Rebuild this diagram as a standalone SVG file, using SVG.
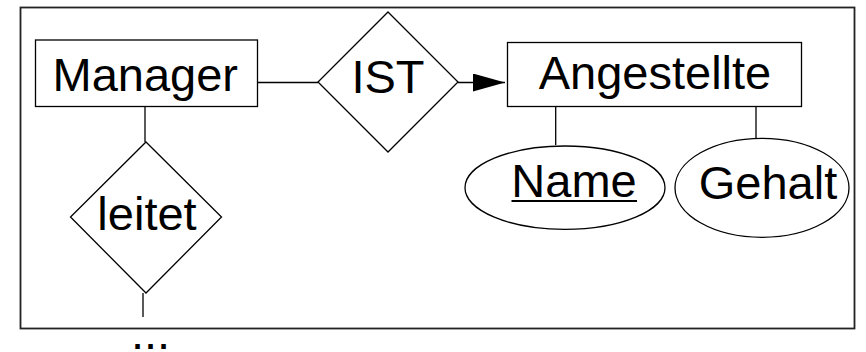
<svg xmlns="http://www.w3.org/2000/svg" width="866" height="352" viewBox="0 0 866 352">
<style>
.s{fill:#fff;stroke:#000;stroke-width:1.3}
.t{font-family:"Liberation Sans",Arial,sans-serif;font-size:47px;fill:#000}
.c{stroke:#000;stroke-width:1.3;fill:none}
</style>
<defs>
<marker id="ah" markerUnits="userSpaceOnUse" markerWidth="32" markerHeight="18" refX="32" refY="9" orient="auto">
<path d="M0,0 L32,9 L0,18 Z" fill="#000"/>
</marker>
</defs>
<rect id="frame" x="20.5" y="7.5" width="834" height="321" fill="#fff" stroke="#222" stroke-width="1.8"/>
<g id="connectors">
<line class="c" x1="254" y1="82.5" x2="318" y2="82.5"/>
<line class="c" x1="458" y1="82.5" x2="505" y2="82.5" marker-end="url(#ah)"/>
<line class="c" x1="145" y1="106" x2="145" y2="142"/>
<line class="c" x1="143" y1="293" x2="143" y2="317"/>
<line class="c" x1="555.7" y1="106.5" x2="555.7" y2="145"/>
<line class="c" x1="756" y1="106.5" x2="756" y2="138.5"/>
</g>
<g id="manager">
<rect class="s" x="35.5" y="40" width="222" height="66.5"/>
<text class="t" x="52.5" y="91">Manager</text>
</g>
<g id="ist">
<polygon class="s" points="388,12 458,82 388,152 318,82"/>
<text class="t" x="388" y="93" text-anchor="middle">IST</text>
</g>
<g id="angestellte">
<rect class="s" x="507.5" y="42.5" width="294" height="64"/>
<text class="t" x="655" y="89" text-anchor="middle">Angestellte</text>
</g>
<g id="name">
<ellipse class="s" cx="565" cy="187.7" rx="100" ry="41.7"/>
<text class="t" x="574" y="197" text-anchor="middle">Name</text>
<line x1="511.5" y1="201" x2="637" y2="201" stroke="#000" stroke-width="1.8"/>
</g>
<g id="gehalt">
<ellipse class="s" cx="762" cy="187.8" rx="87" ry="49.5"/>
<text class="t" x="768" y="199" text-anchor="middle">Gehalt</text>
</g>
<g id="leitet">
<polygon class="s" points="146,142 221.5,217 146,293 70.5,217"/>
<text class="t" x="147" y="230" text-anchor="middle">leitet</text>
</g>
<text class="t" x="131" y="349">...</text>
</svg>
